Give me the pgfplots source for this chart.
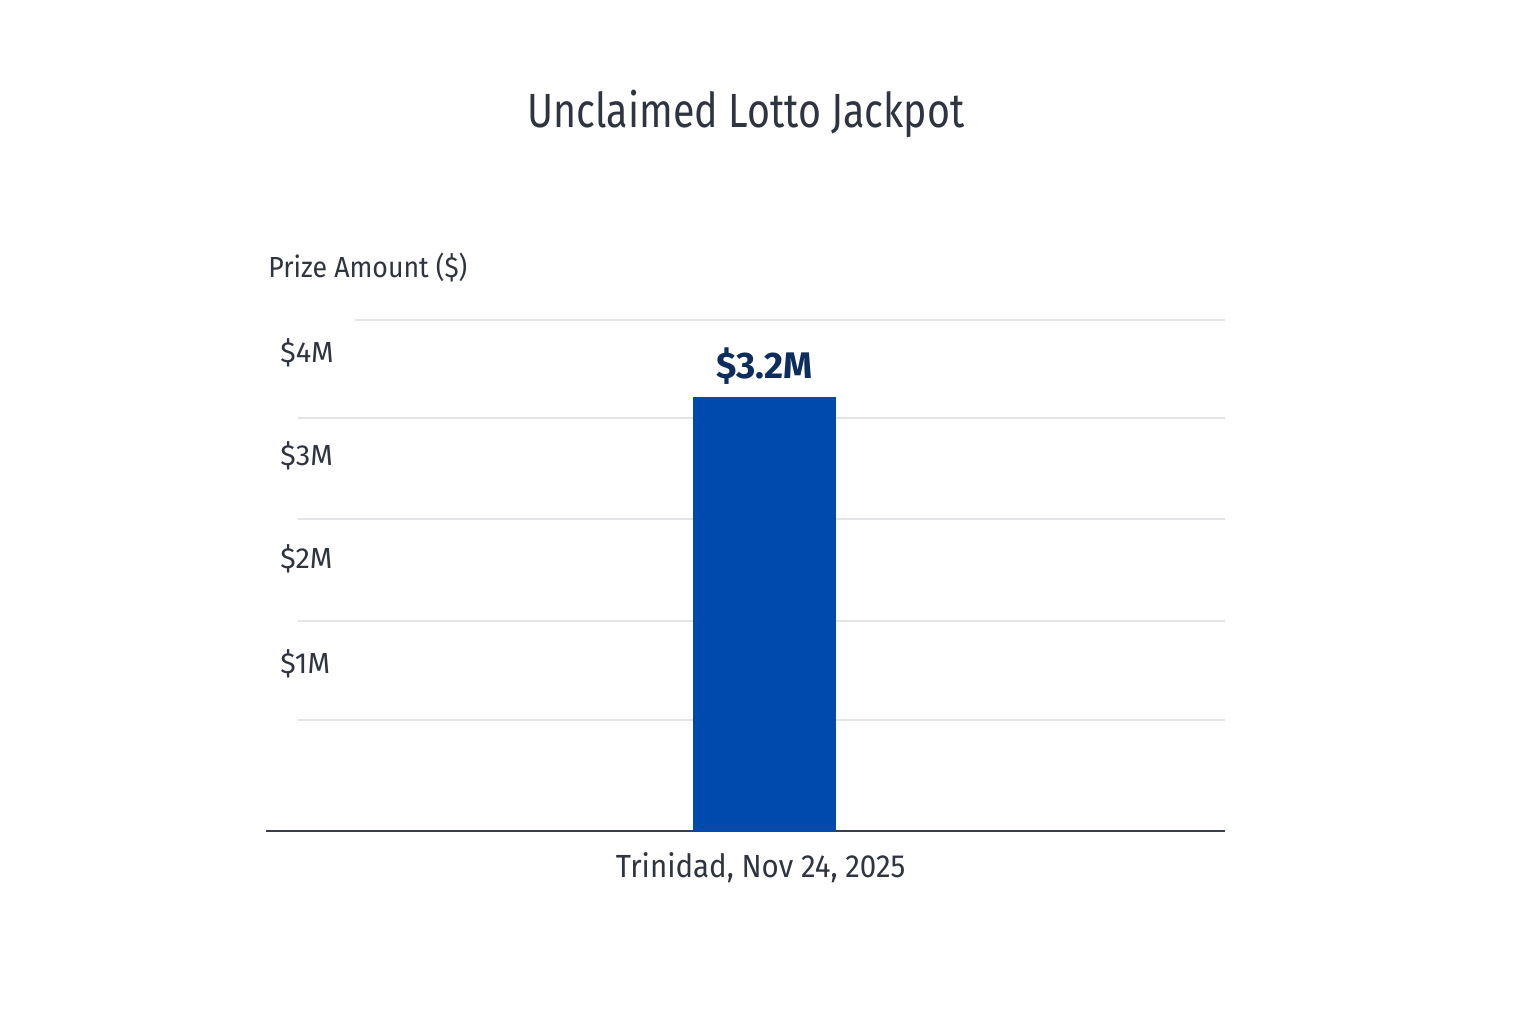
\documentclass[border=0pt]{standalone}
\usepackage{fontspec}
\setmainfont{Fira Sans}
\newfontfamily\condfont[FakeStretch=0.92]{Fira Sans}
\newfontfamily\titlefont[FakeStretch=0.82]{Fira Sans}
\newfontfamily\labfont[FakeStretch=0.92]{Fira Sans}
\usepackage{pgfplots}
\pgfplotsset{compat=1.18}
\definecolor{txt}{HTML}{2F3441}
\definecolor{barblue}{HTML}{004AAD}
\definecolor{navy}{HTML}{0D2D5E}
\definecolor{gridc}{HTML}{E2E4E8}
\definecolor{basec}{HTML}{3A3F4C}
\begin{document}
\begin{tikzpicture}
\useasboundingbox[fill=white] (-133pt,-96.5pt) rectangle (635pt,415.5pt);
\begin{axis}[
  at={(0,0)}, anchor=south west,
  scale only axis, width=479.5pt, height=255.5pt,
  xmin=0, xmax=1, ymin=0, ymax=3.77,
  axis x line=bottom, axis y line=left,
  x axis line style={basec, line width=1pt, -},
  y axis line style={draw=none},
  xtick={0.52}, xticklabels={{Trinidad{,} Nov 24{,} 2025}},
  xticklabel style={font=\condfont\fontsize{16}{19}\selectfont, text=txt, yshift=-7pt, xshift=-2pt},
  ytick={1.23,2.01,2.77,3.53},
  yticklabels={\$1M,\$2M,\$3M,\$4M},
  yticklabel style={font=\fontsize{14.5}{17}\selectfont, text=txt, anchor=west, inner sep=0pt, xshift=7pt},
  major tick length=0pt,
  ybar, bar width=71.5pt,
  clip=false,
]
\draw[gridc, line width=0.8pt] (axis cs:0.0334,0.819) -- (axis cs:1,0.819);
\draw[gridc, line width=0.8pt] (axis cs:0.0334,1.549) -- (axis cs:1,1.549);
\draw[gridc, line width=0.8pt] (axis cs:0.0334,2.301) -- (axis cs:1,2.301);
\draw[gridc, line width=0.8pt] (axis cs:0.0334,3.046) -- (axis cs:1,3.046);
\draw[gridc, line width=0.8pt] (axis cs:0.0928,3.768) -- (axis cs:1,3.768);
\addplot[fill=barblue, draw=none,
  nodes near coords={\$3.2M},
  nodes near coords style={font=\fontsize{18.5}{21}\selectfont\bfseries, text=navy, yshift=3pt}]
  coordinates {(0.52,3.2)};
\end{axis}
\node[anchor=west, font=\labfont\fontsize{14.5}{17}\selectfont, text=txt, inner sep=0pt] at (1pt,282pt) {Prize Amount (\$)};
\node[font=\titlefont\fontsize{24}{29}\selectfont, text=txt, inner sep=0pt] at (240pt,358.5pt) {Unclaimed Lotto Jackpot};
\end{tikzpicture}
\end{document}
